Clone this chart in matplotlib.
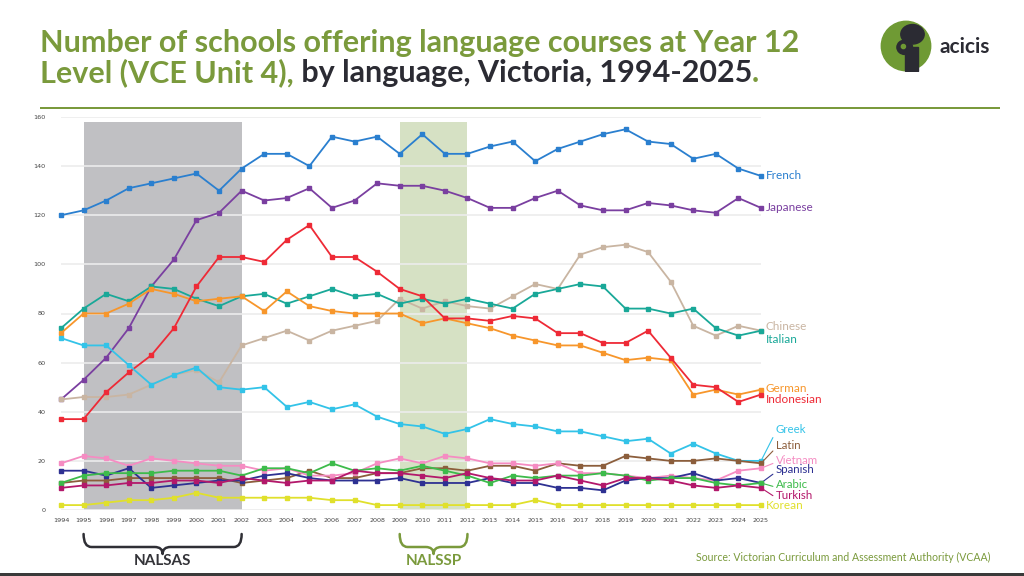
import matplotlib
matplotlib.use("Agg")
import matplotlib.pyplot as plt
from matplotlib.path import Path
from matplotlib.patches import PathPatch, Circle, Rectangle, Ellipse
from matplotlib.transforms import blended_transform_factory

# ---- data ----
years = list(range(1994, 2026))

french = [120, 122, 126, 131, 133, 135, 137, 130, 139, 145,
          145, 140, 152, 150, 152, 145, 153, 145, 145, 148,
          150, 142, 147, 150, 153, 155, 150, 149, 143, 145, 139, 136]
japanese = [45, 53, 62, 74, 91, 102, 118, 121, 130, 126,
            127, 131, 123, 126, 133, 132, 132, 130, 127, 123,
            123, 127, 130, 124, 122, 122, 125, 124, 122, 121, 127, 123]
chinese = [45, 46, 46, 47, 51, 55, 57, 52, 67, 70,
           73, 69, 73, 75, 77, 86, 82, 85, 83, 82,
           87, 92, 90, 104, 107, 108, 105, 93, 75, 71, 75, 73]
italian = [74, 82, 88, 85, 91, 90, 86, 83, 87, 88,
           84, 87, 90, 87, 88, 84, 86, 84, 86, 84,
           82, 88, 90, 92, 91, 82, 82, 80, 82, 74, 71, 73]
german = [72, 80, 80, 84, 90, 88, 85, 86, 87, 81,
          89, 83, 81, 80, 80, 80, 76, 78, 76, 74,
          71, 69, 67, 67, 64, 61, 62, 61, 47, 49, 47, 49]
indonesian = [37, 37, 48, 56, 63, 74, 91, 103, 103, 101,
              110, 116, 103, 103, 97, 90, 87, 78, 78, 77,
              79, 78, 72, 72, 68, 68, 73, 62, 51, 50, 44, 47]
greek = [70, 67, 67, 59, 51, 55, 58, 50, 49, 50,
         42, 44, 41, 43, 38, 35, 34, 31, 33, 37,
         35, 34, 32, 32, 30, 28, 29, 23, 27, 23, 20, 20]
latin = [11, 12, 12, 13, 13, 13, 13, 13, 11, 12,
         13, 16, 13, 13, 15, 15, 17, 17, 16, 18,
         18, 16, 19, 18, 18, 22, 21, 20, 20, 21, 20, 19]
vietnam = [19, 22, 21, 18, 21, 20, 19, 18, 18, 16,
           17, 14, 14, 15, 19, 21, 19, 22, 21, 19,
           19, 18, 19, 15, 15, 14, 13, 14, 13, 12, 16, 17]
spanish = [16, 16, 14, 17, 9, 10, 11, 12, 12, 14,
           15, 13, 12, 12, 12, 13, 11, 11, 11, 13,
           11, 11, 9, 9, 8, 12, 13, 13, 15, 12, 13, 11]
arabic = [11, 14, 15, 15, 15, 16, 16, 16, 14, 17,
          17, 15, 19, 16, 17, 16, 18, 16, 14, 11,
          14, 13, 14, 14, 15, 14, 12, 13, 13, 11, 10, 11]
turkish = [9, 10, 10, 11, 11, 12, 12, 11, 13, 12,
           11, 12, 12, 16, 15, 15, 14, 13, 15, 13,
           12, 12, 14, 12, 10, 13, 13, 12, 10, 9, 10, 9]
korean = [2, 2, 3, 4, 4, 5, 7, 5, 5, 5,
          5, 5, 4, 4, 2, 2, 2, 2, 2, 2,
          2, 4, 2, 2, 2, 2, 2, 2, 2, 2, 2, 2]

# program periods
nalsas = (1995, 2002)
nalssp = (2009, 2012)

GREEN = "#7a9a3c"
DARK = "#2b2b33"

# name, values, colour, label y (data units), label x offset, leader line
series = [
    ("French", french, "#2a7fcf", 136.3, 0.2, False),
    ("Japanese", japanese, "#7a3fa0", 123.3, 0.2, False),
    ("Chinese", chinese, "#c9b5a2", 74.7, 0.22, False),
    ("Italian", italian, "#19a898", 69.6, 0.22, False),
    ("German", german, "#f7962b", 49.6, 0.22, False),
    ("Indonesian", indonesian, "#ee2a36", 45.0, 0.22, False),
    ("Greek", greek, "#33c3e8", 32.6, 0.65, True),
    ("Latin", latin, "#8c5e3c", 26.1, 0.65, True),
    ("Vietnam", vietnam, "#f58cc2", 20.3, 0.65, True),
    ("Spanish", spanish, "#2e3192", 16.3, 0.65, True),
    ("Arabic", arabic, "#3dbb4b", 10.2, 0.65, True),
    ("Turkish", turkish, "#b3186b", 6.0, 0.65, True),
    ("Korean", korean, "#e0e02c", 1.8, 0.22, False),
]

W, H = 1024, 576
fig = plt.figure(figsize=(W / 100, H / 100), dpi=100)
fig.patch.set_facecolor("white")

# plot area: 1994 at x=61px, 2025 at x=761px; 0 at y=510px, 160 at y=117px
ax = fig.add_axes([61 / W, 1 - 510 / H, 700 / W, 393 / H])
ax.set_xlim(years[0], years[-1])
ax.set_ylim(0, 160)
for s in ax.spines.values():
    s.set_visible(False)
ax.set_yticks(range(0, 161, 20))
ax.set_xticks(years)
ax.set_xticklabels([str(y) for y in years])
ax.tick_params(length=0, labelsize=4.6, labelcolor="#444444")
ax.tick_params(axis="x", pad=6)
ax.tick_params(axis="y", pad=11)
ax.grid(axis="y", color="#ececec", lw=1.2, zorder=0)
ax.set_axisbelow(True)

ax.axvspan(*nalsas, ymax=158 / 160, color="#c0c0c3", lw=0, zorder=0.5)
ax.axvspan(*nalssp, ymax=158 / 160, color="#d6e1c4", lw=0, zorder=0.5)

for name, vals, col, ly, dx, leader in series:
    ax.plot(years, vals, color=col, lw=1.3, marker="s", ms=3.2,
            clip_on=False, zorder=3)
    if leader:
        ax.annotate(name, xy=(years[-1], vals[-1]),
                    xytext=(years[-1] + dx, ly), textcoords="data",
                    color=col, fontsize=8.3, va="center", ha="left",
                    family="Lato", annotation_clip=False,
                    arrowprops=dict(arrowstyle="-", color=col, lw=0.8,
                                    shrinkA=0, shrinkB=1,
                                    relpos=(0, 0.3)))
    else:
        ax.text(years[-1] + dx, ly, name, color=col, fontsize=8.5,
                va="center", ha="left", family="Lato", clip_on=False)

# ---- title ----
renderer = fig.canvas.get_renderer()
tkw = dict(fontsize=22, family="Lato", fontweight="bold", va="baseline")
fig.text(40 / W, 1 - 52 / H, "Number of schools offering language courses at Year 12",
         color=GREEN, **tkw)
x = 40 / W
for piece, col in [("Level (VCE Unit 4),", GREEN),
                   (" by language, Victoria, 1994-2025", DARK), (".", GREEN)]:
    t = fig.text(x, 1 - 82 / H, piece, color=col, **tkw)
    bb = t.get_window_extent(renderer)
    x = bb.x1 / W

# green rule under title
fig.add_artist(Rectangle((40 / W, 1 - 109 / H), 960 / W, 2 / H,
                         transform=fig.transFigure, color=GREEN, lw=0))

# ---- logo ----
logo = fig.add_axes([880 / W, 1 - 72 / H, 52 / W, 52 / H])
logo.set_xlim(-1, 1)
logo.set_ylim(-1, 1)
logo.set_aspect("equal")
logo.axis("off")
logo.add_patch(Circle((0, 0), 0.95, color="#6f9a34"))
logo.add_patch(Ellipse((0.25, 0.45), 0.9, 0.75, color=DARK))
logo.add_patch(Ellipse((-0.05, -0.05), 0.6, 0.55, color=DARK))
logo.add_patch(Rectangle((-0.05, -0.95), 0.5, 0.9, color=DARK))
logo.add_patch(Circle((-0.1, -0.02), 0.08, color="#6f9a34"))
fig.text(940 / W, 1 - 47 / H, "acicis", fontsize=15, family="Lato",
         fontweight="bold", color=DARK, va="center", ha="left")


# ---- program braces ----
def brace(x0, x1, col):
    tr = blended_transform_factory(ax.transData, fig.transFigure)
    xm = (x0 + x1) / 2
    q = 0.35
    y0, y1, y2 = 1 - 534 / H, 1 - 547 / H, 1 - 554 / H
    verts = [(x0, y0), (x0, y1), (x0 + q, y1), (xm - q, y1),
             (xm, y1), (xm, y2), (xm, y1), (xm + q, y1),
             (x1 - q, y1), (x1, y1), (x1, y0)]
    codes = [Path.MOVETO, Path.CURVE3, Path.CURVE3, Path.LINETO,
             Path.CURVE3, Path.CURVE3, Path.CURVE3, Path.CURVE3,
             Path.LINETO, Path.CURVE3, Path.CURVE3]
    fig.add_artist(PathPatch(Path(verts, codes), transform=tr, fc="none",
                             ec=col, lw=1.8, capstyle="round",
                             joinstyle="round"))
    return xm


tr_lbl = blended_transform_factory(ax.transData, fig.transFigure)
xm = brace(nalsas[0], nalsas[1], "#2f2f35")
fig.text(xm, 1 - 561 / H, "NALSAS", transform=tr_lbl, ha="center", va="center",
         fontsize=11, family="Lato", fontweight="bold", color="#333338")
xm = brace(nalssp[0], nalssp[1], GREEN)
fig.text(xm, 1 - 561 / H, "NALSSP", transform=tr_lbl, ha="center", va="center",
         fontsize=11, family="Lato", fontweight="bold", color=GREEN)

fig.text(990 / W, 1 - 557 / H,
         "Source: Victorian Curriculum and Assessment Authority (VCAA)",
         ha="right", va="center", fontsize=7.6, family="Lato", color=GREEN)

# dark strip along the bottom edge
fig.add_artist(Rectangle((0, 0), 1, 3 / H, transform=fig.transFigure,
                         color="#3a3a3a", lw=0))

fig.savefig("out.png", dpi=100)
